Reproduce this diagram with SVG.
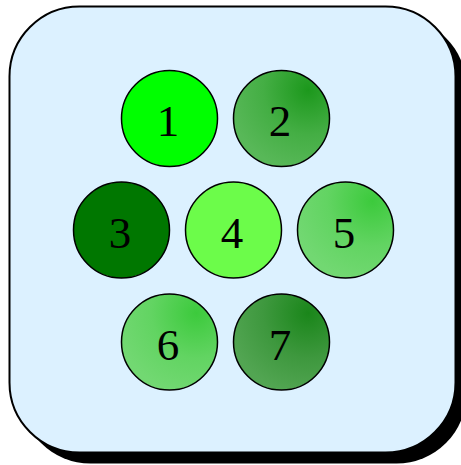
<svg xmlns="http://www.w3.org/2000/svg" width="461" height="465" viewBox="0 0 461 465">
<style>
.node circle{stroke:#000;stroke-width:1.5}
.node text{font-family:"Liberation Serif","Times New Roman",serif;font-size:45px;fill:#000;text-anchor:middle}
</style>
<defs>
<radialGradient id="gA" cx="0.78" cy="0.2" r="0.85" fx="0.78" fy="0.2">
<stop offset="0" stop-color="#1c981c"/><stop offset="0.55" stop-color="#44ae44"/><stop offset="1" stop-color="#58b858"/>
</radialGradient>
<radialGradient id="gB" cx="0.78" cy="0.2" r="0.85" fx="0.78" fy="0.2">
<stop offset="0" stop-color="#3cca3c"/><stop offset="0.55" stop-color="#62d462"/><stop offset="1" stop-color="#72d872"/>
</radialGradient>
<radialGradient id="gC" cx="0.78" cy="0.2" r="0.85" fx="0.78" fy="0.2">
<stop offset="0" stop-color="#1a861a"/><stop offset="0.55" stop-color="#3e983e"/><stop offset="1" stop-color="#52a552"/>
</radialGradient>
</defs>
<g id="frame">
<rect x="20.5" y="17.5" width="446" height="446" rx="70" fill="#000"/>
<rect x="9.5" y="6.5" width="446" height="446" rx="70" fill="#dcf1ff" stroke="#000" stroke-width="2"/>
</g>
<g id="connectors"/>
<g id="n1" class="node"><circle cx="169.5" cy="118.5" r="48" fill="#00ff00"/><text x="168" y="136">1</text></g>
<g id="n2" class="node"><circle cx="281.5" cy="118.5" r="48" fill="url(#gA)"/><text x="280" y="136">2</text></g>
<g id="n3" class="node"><circle cx="121.5" cy="230" r="48" fill="#007700"/><text x="120" y="248">3</text></g>
<g id="n4" class="node"><circle cx="233.5" cy="230" r="48" fill="#6cfc4a"/><text x="232" y="248">4</text></g>
<g id="n5" class="node"><circle cx="345.5" cy="230" r="48" fill="url(#gB)"/><text x="344" y="248">5</text></g>
<g id="n6" class="node"><circle cx="169.5" cy="342" r="48" fill="url(#gB)"/><text x="168" y="360">6</text></g>
<g id="n7" class="node"><circle cx="281.5" cy="342" r="48" fill="url(#gC)"/><text x="280" y="360">7</text></g>
</svg>
